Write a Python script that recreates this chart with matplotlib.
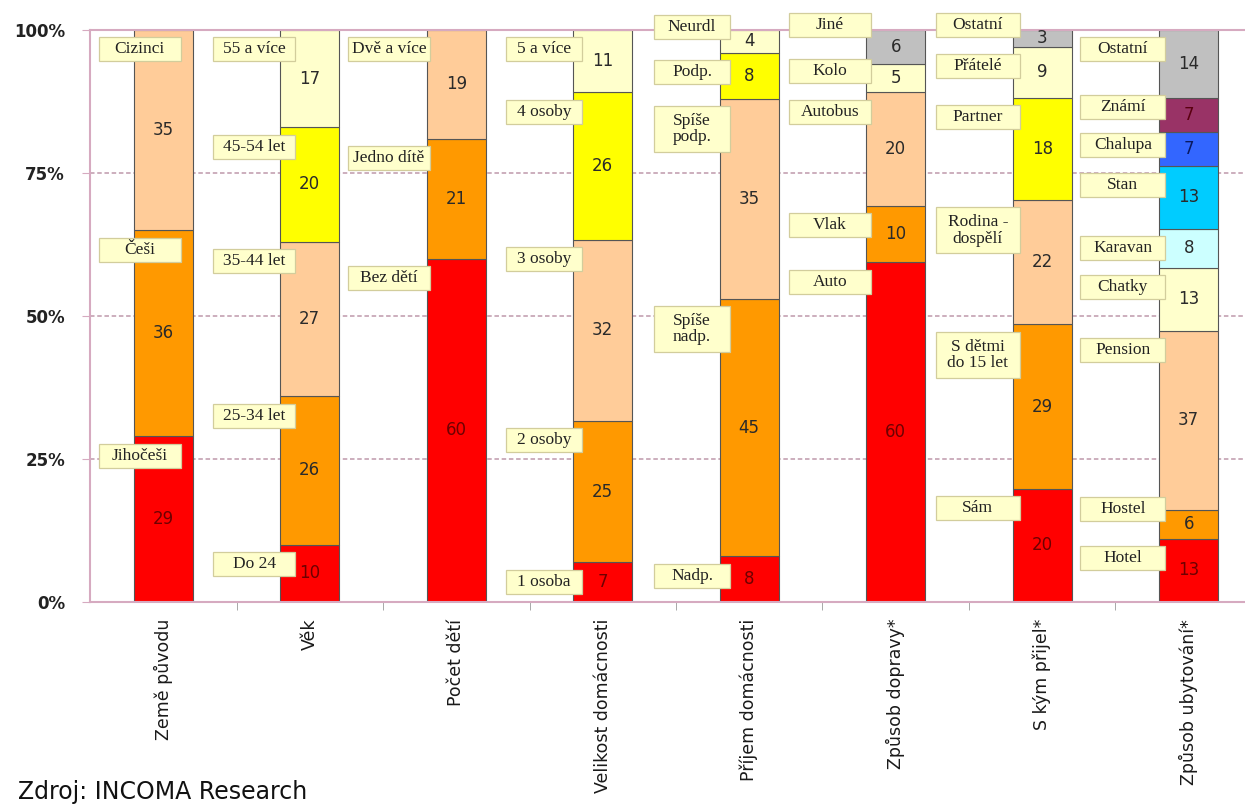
import matplotlib.pyplot as plt
from matplotlib.patches import Rectangle

CATEGORIES = ['Země původu', 'Věk', 'Počet dětí', 'Velikost domácnosti',
              'Příjem domácnosti', 'Způsob dopravy*', 'S kým přijel*',
              'Způsob ubytování*']

# segments of every column, listed from the bottom up
ORIGIN_LABELS = ['Jihočeši', 'Češi', 'Cizinci']
ORIGIN_VALUES = [29, 36, 35]

AGE_LABELS = ['Do 24', '25-34 let', '35-44 let', '45-54 let', '55 a více']
AGE_VALUES = [10, 26, 27, 20, 17]

CHILDREN_LABELS = ['Bez dětí', 'Jedno dítě', 'Dvě a více']
CHILDREN_VALUES = [60, 21, 19]

HOUSEHOLD_LABELS = ['1 osoba', '2 osoby', '3 osoby', '4 osoby', '5 a více']
HOUSEHOLD_VALUES = [7, 25, 32, 26, 11]

INCOME_LABELS = ['Nadp.', 'Spíše\nnadp.', 'Spíše\npodp.', 'Podp.', 'Neurdl']
INCOME_VALUES = [8, 45, 35, 8, 4]

TRANSPORT_LABELS = ['Auto', 'Vlak', 'Autobus', 'Kolo', 'Jiné']
TRANSPORT_VALUES = [60, 10, 20, 5, 6]

COMPANY_LABELS = ['Sám', 'S dětmi\ndo 15 let', 'Rodina -\ndospělí', 'Partner',
                  'Přátelé', 'Ostatní']
COMPANY_VALUES = [20, 29, 22, 18, 9, 3]

STAY_LABELS = ['Hotel', 'Hostel', 'Pension', 'Chatky', 'Karavan', 'Stan',
               'Chalupa', 'Známí', 'Ostatní']
STAY_VALUES = [13, 6, 37, 13, 8, 13, 7, 7, 14]

Y_TICKS = [0, 25, 50, 75, 100]
Y_TICK_LABELS = ['0%', '25%', '50%', '75%', '100%']

RED = '#ff0000'
ORANGE = '#ff9900'
PEACH = '#ffcc99'
YELLOW = '#ffff00'
PALE = '#ffffcc'
GREY = '#c0c0c0'
AQUA = '#ccffff'
SKY = '#00ccff'
BLUE = '#3366ff'
PLUM = '#993366'

BASE = [RED, ORANGE, PEACH, YELLOW, PALE]
COLUMNS = [
    (ORIGIN_LABELS, ORIGIN_VALUES, [RED, ORANGE, PEACH]),
    (AGE_LABELS, AGE_VALUES, BASE),
    (CHILDREN_LABELS, CHILDREN_VALUES, [RED, ORANGE, PEACH]),
    (HOUSEHOLD_LABELS, HOUSEHOLD_VALUES, BASE),
    (INCOME_LABELS, INCOME_VALUES, BASE),
    (TRANSPORT_LABELS, TRANSPORT_VALUES, [RED, ORANGE, PEACH, PALE, GREY]),
    (COMPANY_LABELS, COMPANY_VALUES, BASE + [GREY]),
    (STAY_LABELS, STAY_VALUES,
     [RED, ORANGE, PEACH, PALE, AQUA, SKY, BLUE, PLUM, GREY]),
]

# callout boxes: horizontal offset from the bar centre and width, per column
BOX_DX = [-0.16, -0.38, -0.46, -0.40, -0.39, -0.45, -0.44, -0.45]
BOX_W = [0.56, 0.56, 0.56, 0.52, 0.52, 0.56, 0.57, 0.58]
# callouts moved up from their default spot (percentage points)
BOX_SHIFT = {(4, 'Neurdl'): 3.9, (5, 'Jiné'): 4.3, (5, 'Kolo'): 2.2,
             (6, 'Ostatní'): 4.3, (7, 'Známí'): 1.8, (7, 'Chalupa'): 1.1,
             (7, 'Hostel'): 3.6}

VALUE_INK = {RED: '#6e0000', PLUM: '#5a0010', BLUE: '#0a1a60'}

W, H = 1245, 805
fig = plt.figure(figsize=(W / 100, H / 100), dpi=100)
fig.patch.set_facecolor('white')
ax = fig.add_axes([90 / W, 203 / H, 1172 / W, 572 / H])

frame = '#d6aac0'
for y in Y_TICKS[1:-1]:
    ax.axhline(y, color='#c8a8b8', lw=1.3, ls=(0, (2.5, 1.5)), zorder=1)

bar_w = 0.40
for i, (labels, values, colors) in enumerate(COLUMNS):
    total = sum(values)
    bottom = 0.0
    for lab, val, col in zip(labels, values, colors):
        h = val / total * 100
        ax.bar(i, h, bottom=bottom, width=bar_w, color=col,
               edgecolor='#555555', linewidth=0.8, zorder=2)
        ax.text(i, bottom + h / 2, str(val), ha='center', va='center',
                fontsize=12, color=VALUE_INK.get(col, '#2a2a2a'), zorder=5)

        lines = lab.count('\n') + 1
        bh = 4.2 if lines == 1 else 8.0
        top = bottom + h - 1.3 + BOX_SHIFT.get((i, lab), 0)
        cx = i + BOX_DX[i]
        ax.add_patch(Rectangle((cx - BOX_W[i] / 2, top - bh), BOX_W[i], bh,
                               facecolor=PALE, edgecolor='#d2cd9c', lw=0.9,
                               zorder=3, clip_on=False))
        ax.text(cx, top - bh / 2, lab, ha='center', va='center',
                fontsize=12.5, family='Liberation Serif', color='#222222',
                linespacing=1.05, zorder=4, clip_on=False)
        bottom += h

ax.set_xlim(-0.5, len(CATEGORIES) - 0.5)
ax.set_ylim(0, 100)

ax.set_xticks(range(len(CATEGORIES)))
ax.set_xticklabels(CATEGORIES, rotation=90, va='top', ha='center',
                   fontsize=12.5, color='#1a1a1a')
ax.tick_params(axis='x', length=0, pad=12)
ax.set_xticks([k + 0.5 for k in range(len(CATEGORIES) - 1)], minor=True)
ax.tick_params(axis='x', which='minor', length=6, color='#9a9a9a',
               direction='out')

ax.set_yticks(Y_TICKS)
ax.set_yticklabels(Y_TICK_LABELS, fontsize=12, fontweight='bold',
                   color='#222222')
ax.tick_params(axis='y', length=6, color=frame, pad=12)

for side in ('left', 'top', 'bottom', 'right'):
    ax.spines[side].set_color(frame)
    ax.spines[side].set_linewidth(1.5)

fig.text(18 / W, 6 / H, 'Zdroj: INCOMA Research', fontsize=17,
         color='#111111', ha='left', va='baseline')

fig.savefig('out.png', dpi=100)
